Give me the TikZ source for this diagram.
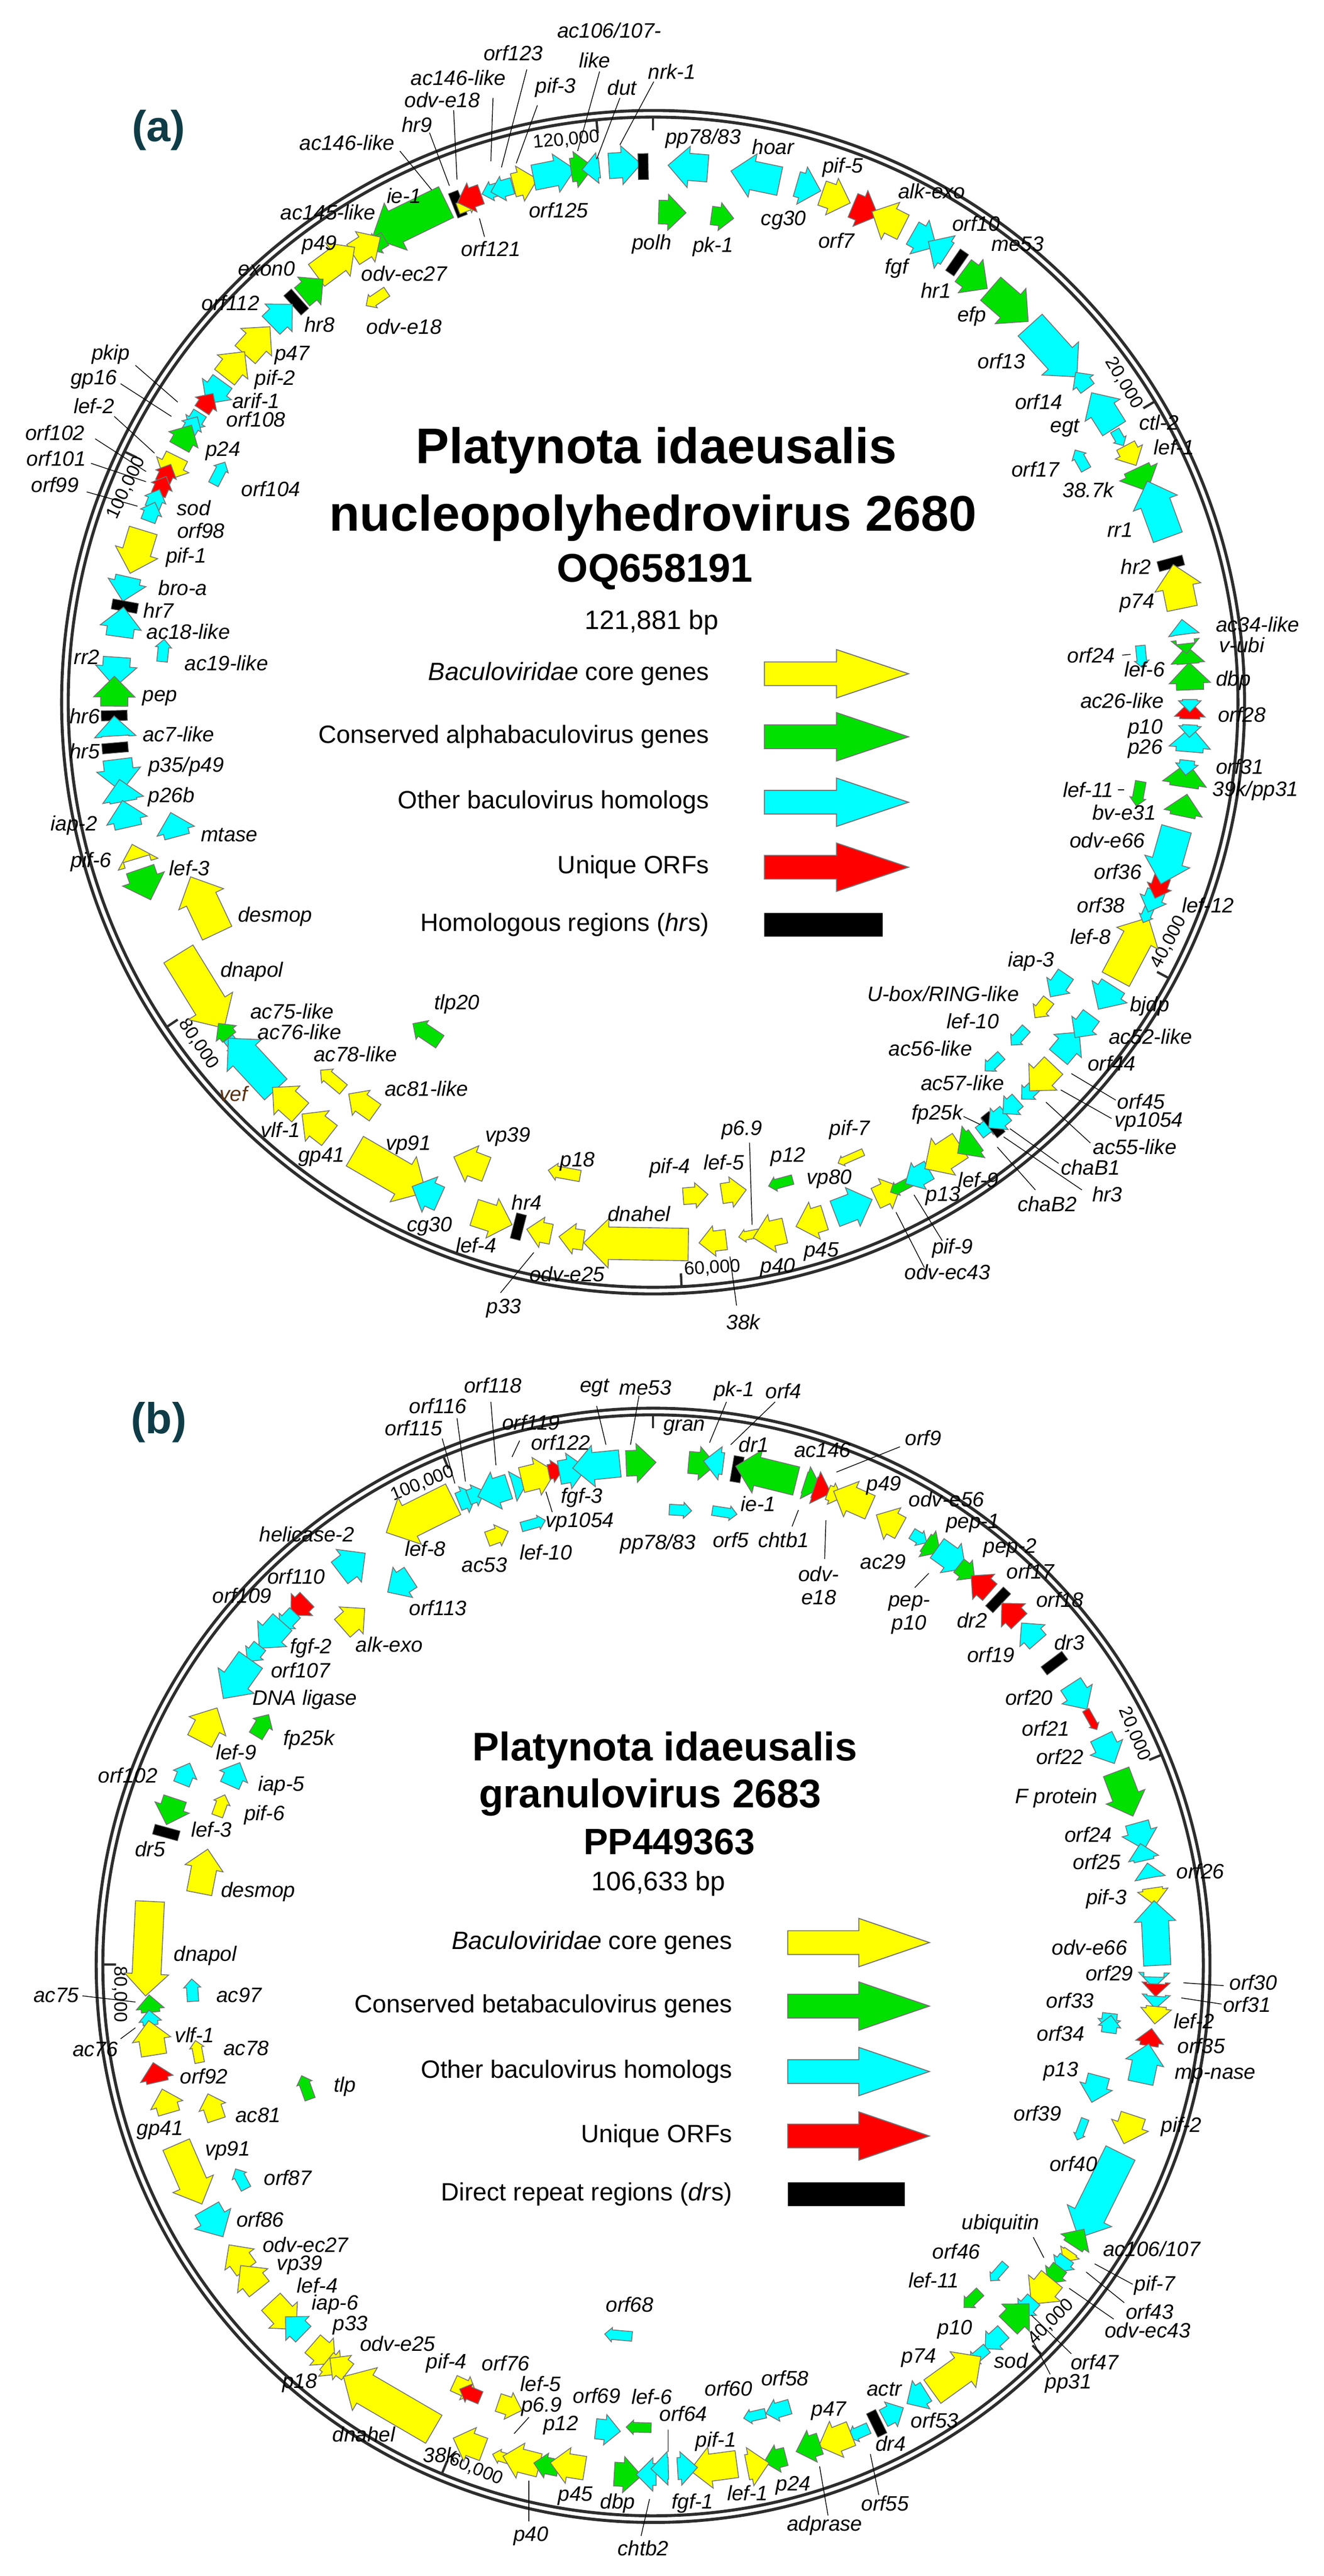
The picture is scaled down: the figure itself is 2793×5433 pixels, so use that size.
\documentclass[tikz,border=0pt]{standalone}
\usepackage{fontspec}
\setmainfont{Liberation Sans}
\usetikzlibrary{shapes.arrows}
\definecolor{gY}{RGB}{255,255,0}
\definecolor{gG}{RGB}{0,225,0}
\definecolor{gC}{RGB}{0,255,255}
\definecolor{gR}{RGB}{255,0,0}
\definecolor{ringc}{RGB}{45,45,45}
\definecolor{panelc}{RGB}{15,60,70}
\definecolor{vefc}{RGB}{90,50,20}
\newcommand\setz[4]{\def\zox{#1}\def\zoy{#2}\def\zsx{#3}\def\zsy{#4}}
\newcommand\setc[3]{\def\ccx{#1}\def\ccy{#2}\def\cR{#3}}
\newcommand\gn[6]{%
 \pgfmathsetmacro\gX{\zox+#1/\zsx}\pgfmathsetmacro\gY{\zoy+#2/\zsy}%
 \pgfmathsetmacro\gph{atan2(\ccy-\gY,\gX-\ccx)}%
 \pgfmathsetmacro\grt{\gph-90*#6}%
 \pgfmathsetmacro\gbw{0.37*#4*0.28453}\pgfmathsetmacro\ghe{0.2*#4*0.28453}%
 \pgfmathsetmacro\glen{#3*1.05*0.28453}%
 \node[gene,fill=g#5,rotate=\grt,inner ysep=\gbw pt,single arrow head extend=\ghe pt,minimum height=\glen pt] at (\gX,\gY) {};}
\newcommand\hrb[2]{%
 \pgfmathsetmacro\gX{\zox+#1/\zsx}\pgfmathsetmacro\gY{\zoy+#2/\zsy}%
 \pgfmathsetmacro\gph{atan2(\ccy-\gY,\gX-\ccx)}%
 \node[hrbox,rotate=\gph] at (\gX,\gY) {};}
\newcommand\glab[3]{%
 \pgfmathsetmacro\gX{\zox+#1/\zsx}\pgfmathsetmacro\gY{\zoy+#2/\zsy}%
 \node[lab] at (\gX,\gY) {#3};}
\newcommand\gld[4]{%
 \pgfmathsetmacro\gXa{\zox+#1/\zsx}\pgfmathsetmacro\gYa{\zoy+#2/\zsy}%
 \pgfmathsetmacro\gXb{\zox+#3/\zsx}\pgfmathsetmacro\gYb{\zoy+#4/\zsy}%
 \draw[leader] (\gXa,\gYa) -- (\gXb,\gYb);}
\newcommand\gtick[2]{%
 \pgfmathsetmacro\gXa{\ccx+(\cR-12)*cos(#1)}\pgfmathsetmacro\gYa{\ccy-(\cR-12)*sin(#1)}%
 \pgfmathsetmacro\gXb{\ccx+(\cR-42)*cos(#1)}\pgfmathsetmacro\gYb{\ccy-(\cR-42)*sin(#1)}%
 \draw[tickl] (\gXa,\gYa) -- (\gXb,\gYb);%
 \pgfmathsetmacro\gX{\ccx+(\cR-48)*cos(#1+3.2)}\pgfmathsetmacro\gY{\ccy-(\cR-48)*sin(#1+3.2)}%
 \pgfmathsetmacro\grt{#1>0 ? #1-90 : #1+90}%
 \node[tlab,rotate=\grt] at (\gX,\gY) {#2};}
\newcommand\ring{%
 \draw[ringl] (\ccx,\ccy) circle[radius=\cR];
 \pgfmathsetmacro\gri{\cR-14}%
 \draw[ringl] (\ccx,\ccy) circle[radius=\gri];}
\begin{document}
\begin{tikzpicture}[x=0.01cm,y=-0.01cm,
 gene/.style={single arrow,draw=black!55,line width=0.5pt,inner xsep=0pt,single arrow tip angle=90},
 hrbox/.style={fill=black,draw=black!70,minimum width=15.5pt,minimum height=6pt,inner sep=0pt},
 lab/.style={font=\fontsize{12.5}{14}\selectfont\itshape,inner sep=1pt,align=center},
 leader/.style={draw=black,line width=0.45pt},
 tickl/.style={draw=ringc,line width=1.4pt},
 tlab/.style={font=\fontsize{11}{12}\selectfont,inner sep=0pt},
 ringl/.style={draw=ringc,line width=1.8pt},
 legt/.style={font=\fontsize{15}{17}\selectfont,anchor=east,inner sep=0pt},
 larr/.style={draw=black!55,line width=0.6pt},
 plab/.style={font=\fontsize{26}{28}\bfseries\selectfont\rmfamily,text=panelc}]
\useasboundingbox (0,0) rectangle (2793,5433);
\fill[white] (0,0) rectangle (2793,5433);

%================= PANEL A =================
\setc{1378}{1481}{1248}
\ring
\gtick{90}{}
\gtick{30.93}{20,000}
\gtick{-28.14}{40,000}
\gtick{-87.21}{60,000}
\gtick{-146.28}{80,000}
\gtick{154.65}{100,000}
\gtick{95.56}{120,000}
\node[plab] (pa) at (335,275) {(a)};
\node[font=\fontsize{30}{32}\bfseries\selectfont] (ta1) at (1385,950) {Platynota idaeusalis};
\node[font=\fontsize{30}{32}\bfseries\selectfont] (ta2) at (1378,1092) {nucleopolyhedrovirus 2680};
\node[font=\fontsize{24}{26}\bfseries\selectfont] (ta3) at (1382,1206) {OQ658191};
\node[font=\fontsize{16}{18}\selectfont] (ta4) at (1375,1313) {121,881 bp};
% legend a
\foreach \yy/\cc/\tt in {1421/gY/{\itshape Baculoviridae\upshape{} core genes},1554/gG/{Conserved alphabaculovirus genes},1692/gC/{Other baculovirus homologs},1829/gR/{Unique ORFs}}{
 \node[legt] at (1497,\yy) {\tt};
 \draw[larr,fill=\cc] (1613,\yy-25) -- (1765,\yy-25) -- (1765,\yy-51) -- (1917,\yy) -- (1765,\yy+51) -- (1765,\yy+25) -- (1613,\yy+25) -- cycle;}
\node[legt] at (1497,1950) {Homologous regions (\textit{hr}s)};
\fill (1613,1925) rectangle (1862,1975);

% zoom1 region
\setz{0}{0}{1.12}{1.1615}
\gn{985}{530}{165}{95}{G}{-1}
\hrb{1082}{500}
\gn{1098}{505}{40}{30}{Y}{1}
\gn{1120}{482}{50}{55}{R}{-1}
\gn{1172}{465}{45}{35}{C}{-1}
\gn{1195}{460}{45}{45}{C}{-1}
\gn{1228}{450}{50}{65}{Y}{1}
\gn{1295}{428}{85}{70}{C}{1}
\gn{1362}{415}{45}{65}{G}{1}
\gn{1408}{412}{35}{55}{C}{-1}
\gn{1462}{405}{65}{70}{C}{1}
\hrb{1520}{408}
\gn{1575}{520}{55}{65}{G}{1}
\gn{897}{593}{40}{40}{G}{-1}
\gn{855}{610}{65}{65}{Y}{1}
\gn{780}{650}{95}{75}{Y}{1}
\gn{895}{728}{50}{28}{Y}{-1}
\gn{728}{715}{55}{65}{G}{1}
\hrb{700}{740}
\gn{655}{782}{60}{70}{C}{1}
\gn{598}{847}{75}{75}{Y}{1}
\gn{545}{905}{65}{70}{Y}{1}
\gn{515}{950}{55}{65}{C}{-1}
\gn{485}{993}{40}{45}{R}{1}
\gn{465}{1025}{40}{40}{C}{-1}
\gn{450}{1050}{40}{40}{C}{1}
\gn{432}{1080}{50}{60}{G}{1}
\gn{410}{1135}{55}{65}{Y}{-1}
\gn{515}{1165}{50}{28}{C}{1}
\gn{390}{1168}{40}{40}{R}{1}
\gn{380}{1198}{40}{40}{R}{1}
\gn{365}{1230}{40}{40}{C}{1}
\gn{355}{1262}{40}{40}{C}{1}
\gn{328}{1335}{90}{80}{Y}{-1}
\gn{300}{1428}{50}{70}{C}{-1}
\hrb{295}{1485}
\glab{1440}{75}{ac106/107-}
\glab{1405}{148}{like}
\glab{1213}{130}{orf123}
\glab{1083}{190}{ac146-like}
\glab{1313}{215}{pif-3}
\glab{1470}{215}{dut}
\glab{1588}{175}{nrk-1}
\glab{1045}{245}{odv-e18}
\glab{985}{305}{hr9}
\glab{820}{350}{ac146-like}
\glab{955}{480}{ie-1}
\glab{1320}{515}{orf125}
\glab{1160}{610}{orf121}
\glab{775}{520}{ac145-like}
\glab{755}{600}{p49}
\glab{630}{658}{exon0}
\glab{955}{670}{odv-ec27}
\glab{545}{742}{orf112}
\glab{755}{795}{hr8}
\glab{955}{800}{odv-e18}
\glab{262}{868}{pkip}
\glab{690}{870}{p47}
\glab{222}{930}{gp16}
\glab{650}{930}{pif-2}
\glab{605}{982}{arif-1}
\glab{222}{995}{lef-2}
\glab{605}{1027}{orf108}
\glab{130}{1060}{orf102}
\glab{527}{1105}{p24}
\glab{133}{1123}{orf101}
\glab{130}{1188}{orf99}
\glab{640}{1198}{orf104}
\glab{458}{1245}{sod}
\glab{475}{1300}{orf98}
\glab{440}{1365}{pif-1}
\glab{432}{1440}{bro-a}
\glab{375}{1495}{hr7}
\glab{1540}{598}{polh}
\gld{945}{370}{1020}{465}
\gld{1015}{325}{1062}{455}
\gld{1072}{270}{1080}{440}
\gld{1165}{240}{1160}{395}
\gld{1245}{170}{1185}{410}
\gld{1270}{258}{1220}{400}
\gld{1417}{175}{1365}{370}
\gld{1465}{240}{1410}{390}
\gld{1545}{200}{1465}{355}
\gld{1133}{535}{1145}{580}
\gld{320}{895}{420}{985}
\gld{285}{940}{405}{1020}
\gld{270}{1020}{365}{1110}
\gld{225}{1075}{345}{1155}
\gld{215}{1135}{345}{1180}
\gld{205}{1205}{325}{1240}

% zoom2 region
\setz{1390}{0}{1.12}{1.1615}
\gn{85}{410}{80}{75}{C}{-1}
\gn{140}{530}{45}{50}{G}{1}
\gn{245}{435}{100}{80}{C}{-1}
\gn{340}{455}{50}{70}{C}{1}
\gn{405}{480}{60}{70}{Y}{1}
\gn{475}{510}{55}{70}{R}{1}
\gn{555}{545}{70}{75}{Y}{-1}
\gn{615}{580}{55}{70}{C}{1}
\gn{672}{615}{45}{70}{C}{-1}
\hrb{705}{643}
\gn{735}{675}{60}{75}{G}{1}
\gn{815}{735}{100}{85}{G}{1}
\gn{920}{845}{140}{90}{C}{1}
\gn{1005}{940}{40}{45}{C}{-1}
\gn{1058}{1020}{85}{75}{C}{-1}
\gn{1085}{1068}{35}{25}{C}{1}
\gn{1000}{1132}{45}{28}{C}{-1}
\gn{1110}{1105}{45}{55}{Y}{1}
\gn{1135}{1160}{50}{75}{G}{1}
\gn{1185}{1265}{120}{85}{C}{-1}
\hrb{1210}{1380}
\gn{1230}{1455}{90}{85}{Y}{-1}
\glab{105}{340}{pp78/83}
\glab{270}{360}{hoar}
\glab{435}{410}{pif-5}
\glab{645}{468}{alk-exo}
\glab{295}{540}{cg30}
\glab{750}{548}{orf10}
\glab{420}{590}{orf7}
\glab{848}{598}{me53}
\glab{128}{605}{pk-1}
\glab{562}{658}{fgf}
\glab{655}{712}{hr1}
\glab{740}{775}{efp}
\glab{810}{885}{orf13}
\glab{898}{985}{orf14}
\glab{960}{1048}{egt}
\glab{1182}{1035}{ctl-2}
\glab{1218}{1095}{lef-1}
\glab{890}{1150}{orf17}
\glab{1015}{1200}{38.7k}
\glab{1090}{1298}{rr1}
\glab{1128}{1388}{hr2}
\glab{1130}{1478}{p74}

% zoom3 region
\setz{0}{1300}{1.12}{1.1615}
\gn{285}{30}{60}{75}{C}{1}
\gn{385}{90}{45}{28}{C}{1}
\gn{275}{120}{60}{75}{C}{-1}
\gn{270}{200}{60}{75}{G}{1}
\hrb{270}{243}
\gn{272}{285}{40}{75}{C}{1}
\hrb{272}{322}
\gn{280}{372}{65}{80}{C}{-1}
\gn{290}{443}{45}{75}{C}{1}
\gn{300}{500}{55}{75}{C}{1}
\gn{415}{525}{50}{70}{C}{1}
\gn{322}{592}{30}{75}{Y}{1}
\gn{338}{640}{65}{80}{G}{-1}
\gn{490}{725}{125}{90}{Y}{1}
\gn{465}{900}{175}{95}{Y}{-1}
\gn{535}{1022}{35}{45}{G}{1}
\gn{548}{1045}{35}{30}{C}{-1}
\gn{608}{1110}{140}{85}{C}{1}
\gn{1015}{1025}{65}{40}{G}{1}
\gn{790}{1140}{60}{32}{Y}{1}
\gn{688}{1195}{75}{70}{Y}{1}
\gn{865}{1200}{65}{55}{Y}{1}
\gn{758}{1255}{70}{70}{Y}{1}
\gn{905}{1350}{165}{95}{Y}{-1}
\gn{1125}{1345}{70}{70}{Y}{1}
\gn{1020}{1418}{60}{70}{C}{1}
\gn{1150}{1470}{80}{75}{Y}{-1}
\hrb{1225}{1495}
\gn{1340}{1365}{65}{30}{Y}{1}
\glab{445}{38}{ac18-like}
\glab{205}{100}{rr2}
\glab{535}{115}{ac19-like}
\glab{378}{200}{pep}
\glab{200}{245}{hr6}
\glab{422}{288}{ac7-like}
\glab{200}{330}{hr5}
\glab{440}{368}{p35/p49}
\glab{405}{443}{p26b}
\glab{175}{512}{iap-2}
\glab{542}{535}{mtase}
\glab{215}{602}{pif-6}
\glab{448}{617}{lef-3}
\glab{650}{735}{desmop}
\glab{595}{870}{dnapol}
\glab{690}{968}{ac75-like}
\glab{708}{1018}{ac76-like}
\glab{1080}{950}{tlp20}
\glab{840}{1072}{ac78-like}
\glab{1008}{1157}{ac81-like}
\pgfmathsetmacro\gX{552/1.12}\pgfmathsetmacro\gY{1300+1170/1.1615}
\node[lab,text=vefc] at (\gX,\gY) {vef};
\glab{663}{1258}{vlf-1}
\glab{760}{1325}{gp41}
\glab{965}{1295}{vp91}
\glab{1200}{1275}{vp39}
\glab{1015}{1495}{cg30}
\glab{1125}{1540}{lef-4}
\glab{1245}{1435}{hr4}
\glab{1365}{1335}{p18}

% zoom5 region (bottom of a)
\setz{600}{2300}{0.922}{3.0}
\gn{505}{900}{50}{55}{Y}{1}
\gn{568}{940}{50}{55}{Y}{1}
\gn{700}{970}{210}{90}{Y}{1}
\gn{792}{665}{50}{45}{Y}{-1}
\gn{865}{645}{50}{55}{Y}{-1}
\gn{843}{950}{55}{55}{Y}{1}
\gn{912}{910}{50}{22}{Y}{1}
\gn{955}{900}{65}{70}{Y}{1}
\gn{970}{580}{50}{25}{G}{1}
\gn{1035}{820}{60}{70}{Y}{1}
\gn{1095}{750}{80}{75}{C}{-1}
\gn{1105}{420}{55}{18}{Y}{1}
\gn{1165}{660}{55}{60}{Y}{-1}
\gn{1205}{600}{50}{25}{G}{1}
\gn{1240}{530}{55}{55}{C}{1}
\glab{690}{780}{dnahel}
\glab{750}{490}{pif-4}
\glab{855}{455}{lef-5}
\glab{980}{420}{p12}
\glab{1060}{560}{vp80}
\glab{1100}{250}{pif-7}
\glab{890}{250}{p6.9}
\glab{550}{1160}{odv-e25}
\glab{960}{1120}{p40}
\glab{1045}{1020}{p45}
\glab{1300}{1000}{pif-9}
\glab{1290}{1150}{odv-ec43}
\gld{905}{330}{910}{850}
\gld{1190}{770}{1245}{1120}
\gld{1225}{660}{1280}{950}

\setz{800}{2600}{1.4255}{3.0}
\glab{375}{480}{p33}
\glab{1095}{565}{38k}
\gld{465}{125}{365}{380}
\gld{1055}{150}{1075}{460}

% zoom4 region
\setz{1390}{1300}{1.12}{1.1615}
\gn{685}{1315}{85}{80}{Y}{1}
\gn{740}{1290}{45}{70}{G}{1}
\gn{770}{1255}{40}{35}{C}{-1}
\hrb{790}{1245}
\gn{808}{1228}{45}{50}{C}{1}
\gn{838}{1195}{40}{45}{C}{1}
\gn{880}{1160}{40}{35}{C}{1}
\gn{795}{1090}{45}{28}{C}{1}
\gn{855}{1025}{45}{28}{C}{1}
\gn{915}{1120}{70}{70}{Y}{1}
\gn{960}{1060}{65}{65}{C}{-1}
\gn{910}{955}{45}{35}{Y}{1}
\gn{1010}{995}{55}{55}{C}{1}
\gn{950}{895}{55}{50}{C}{1}
\gn{1065}{920}{55}{75}{C}{1}
\gn{1110}{830}{140}{85}{Y}{-1}
\gn{1155}{725}{35}{25}{C}{1}
\gn{1170}{688}{45}{50}{C}{1}
\gn{1185}{655}{45}{45}{R}{1}
\gn{1210}{570}{115}{85}{C}{1}
\gn{1240}{478}{45}{70}{G}{-1}
\gn{1135}{428}{50}{28}{G}{1}
\gn{1243}{405}{50}{80}{G}{-1}
\gn{1248}{362}{30}{40}{C}{1}
\gn{1255}{318}{50}{75}{C}{-1}
\gn{1255}{272}{25}{40}{C}{1}
\gn{1255}{242}{35}{55}{R}{-1}
\gn{1255}{210}{25}{40}{C}{1}
\gn{1255}{163}{55}{75}{G}{-1}
\gn{1250}{108}{35}{60}{G}{-1}
\gn{1140}{93}{45}{25}{C}{1}
\gn{1245}{68}{20}{50}{G}{1}
\gn{1240}{38}{30}{55}{C}{-1}
\glab{1415}{20}{ac34-like}
\glab{1378}{70}{v-ubi}
\glab{1022}{95}{orf24}
\glab{1148}{130}{lef-6}
\glab{1358}{157}{dbp}
\glab{1095}{207}{ac26-like}
\glab{1378}{240}{orf28}
\glab{1150}{275}{p10}
\glab{1150}{325}{p26}
\glab{1373}{368}{orf31}
\glab{1015}{425}{lef-11}
\glab{1410}{428}{39k/pp31}
\glab{1100}{480}{bv-e31}
\glab{1060}{548}{odv-e66}
\glab{1085}{625}{orf36}
\glab{1045}{708}{orf38}
\glab{1298}{708}{lef-12}
\glab{1020}{785}{lef-8}
\glab{880}{845}{iap-3}
\glab{672}{925}{U-box/RING-like}
\glab{1160}{955}{bjdp}
\glab{742}{992}{lef-10}
\glab{1162}{1030}{ac52-like}
\glab{642}{1058}{ac56-like}
\glab{1070}{1095}{orf44}
\glab{718}{1143}{ac57-like}
\glab{1140}{1188}{orf45}
\glab{658}{1220}{fp25k}
\glab{1158}{1238}{vp1054}
\glab{1125}{1300}{ac55-like}
\glab{1020}{1350}{chaB1}
\glab{755}{1380}{lef-9}
\glab{1060}{1415}{hr3}
\glab{918}{1440}{chaB2}
\glab{672}{1420}{p13}
\gld{975}{1120}{1080}{1185}
\gld{950}{1160}{1070}{1230}
\gld{915}{1190}{1020}{1290}
\gld{830}{1255}{945}{1340}
\gld{815}{1275}{1000}{1405}
\gld{800}{1300}{890}{1405}
\gld{720}{1225}{760}{1245}
\gld{1095}{95}{1115}{93}
\gld{1085}{425}{1100}{425}

%================= PANEL B =================
\setc{1378}{4145}{1175}
\ring
\gtick{90}{}
\gtick{22.48}{20,000}
\gtick{-45.04}{40,000}
\gtick{-112.57}{60,000}
\gtick{-180.09}{80,000}
\gtick{112.4}{100,000}
\node[plab] (pb) at (335,3000) {(b)};
\node[font=\fontsize{24}{26}\bfseries\selectfont] (tb1) at (1403,3692) {Platynota idaeusalis};
\node[font=\fontsize{24}{26}\bfseries\selectfont,anchor=west,inner sep=0pt] (tb2) at (1010,3791) {granulovirus 2683};
\node[font=\fontsize{22}{24}\bfseries\selectfont] (tb3) at (1412,3885) {PP449363};
\node[font=\fontsize{16}{18}\selectfont] (tb4) at (1389,3973) {106,633 bp};
\foreach \yy/\cc/\tt in {4097/gY/{\itshape Baculoviridae\upshape{} core genes},4231/gG/{Conserved betabaculovirus genes},4369/gC/{Other baculovirus homologs},4505/gR/{Unique ORFs}}{
 \node[legt] at (1546,\yy) {\tt};
 \draw[larr,fill=\cc] (1662,\yy-25) -- (1812,\yy-25) -- (1812,\yy-51) -- (1961,\yy) -- (1812,\yy+51) -- (1812,\yy+25) -- (1662,\yy+25) -- cycle;}
\node[legt] at (1546,4628) {Direct repeat regions (\textit{dr}s)};
\fill (1662,4603) rectangle (1909,4653);

% zoom6
\setz{0}{2750}{1.12}{1.1615}
\gn{1010}{510}{150}{95}{Y}{-1}
\gn{1095}{480}{40}{50}{C}{1}
\gn{1118}{470}{35}{40}{C}{1}
\gn{1180}{455}{65}{70}{C}{-1}
\gn{1218}{445}{30}{55}{C}{1}
\gn{1258}{425}{70}{70}{Y}{1}
\gn{1305}{410}{30}{40}{R}{1}
\gn{1340}{410}{55}{65}{C}{1}
\gn{1425}{395}{95}{75}{C}{-1}
\gn{1500}{390}{60}{70}{G}{1}
\gn{1168}{570}{45}{40}{Y}{1}
\gn{1255}{540}{50}{25}{C}{1}
\gn{820}{645}{65}{75}{C}{1}
\gn{955}{680}{55}{65}{C}{-1}
\gn{715}{735}{45}{55}{R}{-1}
\gn{685}{770}{45}{40}{C}{-1}
\gn{825}{780}{60}{65}{Y}{1}
\gn{650}{800}{70}{70}{C}{-1}
\gn{605}{850}{40}{40}{C}{-1}
\gn{570}{905}{95}{80}{C}{-1}
\gn{485}{1045}{75}{75}{Y}{1}
\gn{615}{1040}{50}{40}{G}{1}
\gn{435}{1160}{45}{45}{C}{1}
\gn{550}{1163}{50}{55}{C}{1}
\gn{408}{1230}{55}{65}{G}{-1}
\gn{520}{1235}{45}{30}{Y}{1}
\hrb{393}{1295}
\gn{478}{1405}{90}{70}{Y}{1}
\glab{1165}{200}{orf118}
\glab{1035}{250}{orf116}
\glab{1255}{290}{orf119}
\glab{978}{305}{orf115}
\glab{1325}{340}{orf122}
\glab{1405}{205}{egt}
\glab{1525}{205}{me53}
\glab{1375}{475}{fgf-3}
\glab{1370}{535}{vp1054}
\glab{725}{565}{helicase-2}
\glab{1005}{600}{lef-8}
\glab{1145}{640}{ac53}
\glab{1290}{608}{lef-10}
\glab{1555}{588}{pp78/83}
\glab{700}{668}{orf110}
\glab{572}{715}{orf109}
\glab{1035}{745}{orf113}
\glab{735}{843}{fgf-2}
\glab{920}{835}{alk-exo}
\glab{710}{898}{orf107}
\glab{720}{970}{DNA ligase}
\glab{730}{1068}{fp25k}
\glab{558}{1098}{lef-9}
\glab{302}{1155}{orf102}
\glab{665}{1180}{iap-5}
\glab{625}{1252}{pif-6}
\glab{500}{1287}{lef-3}
\glab{355}{1335}{dr5}
\glab{610}{1440}{desmop}
\gld{1045}{330}{1075}{440}
\gld{1080}{280}{1100}{435}
\gld{1160}{240}{1172}{395}
\gld{1228}{335}{1210}{375}
\gld{1410}{250}{1432}{345}
\gld{1510}{225}{1490}{345}
\gld{1290}{460}{1305}{510}

% zoom7
\setz{1390}{2750}{1.12}{1.1615}
\gn{90}{390}{55}{60}{G}{1}
\gn{142}{390}{40}{60}{C}{-1}
\hrb{185}{405}
\gn{270}{420}{125}{80}{G}{-1}
\gn{352}{440}{35}{60}{G}{1}
\gn{375}{452}{35}{60}{R}{1}
\gn{408}{465}{30}{40}{Y}{1}
\gn{45}{505}{45}{28}{C}{1}
\gn{150}{510}{50}{25}{C}{1}
\gn{470}{485}{80}{70}{Y}{-1}
\gn{555}{540}{55}{65}{Y}{-1}
\gn{610}{570}{35}{30}{C}{1}
\gn{638}{590}{35}{55}{G}{1}
\gn{680}{615}{70}{65}{C}{1}
\gn{720}{650}{40}{45}{G}{1}
\gn{770}{695}{50}{60}{R}{-1}
\hrb{802}{725}
\gn{840}{765}{50}{60}{R}{-1}
\gn{885}{815}{50}{60}{C}{-1}
\hrb{935}{880}
\gn{985}{950}{60}{65}{C}{1}
\gn{1020}{1015}{45}{18}{R}{1}
\gn{1055}{1080}{60}{65}{C}{1}
\gn{1095}{1185}{95}{75}{G}{1}
\gn{1135}{1290}{55}{65}{C}{1}
\gn{1145}{1355}{35}{55}{C}{-1}
\gn{1160}{1400}{30}{55}{C}{-1}
\gn{1168}{1440}{35}{55}{Y}{1}
\glab{60}{303}{gran}
\glab{178}{213}{pk-1}
\glab{295}{213}{orf4}
\glab{225}{345}{dr1}
\glab{387}{358}{ac146}
\glab{625}{328}{orf9}
\glab{235}{490}{ie-1}
\glab{532}{445}{p49}
\glab{680}{478}{odv-e56}
\glab{170}{578}{orf5}
\glab{295}{578}{chtb1}
\glab{378}{690}{odv-\\e18}
\glab{530}{632}{ac29}
\glab{742}{538}{pep-1}
\glab{830}{598}{pep-2}
\glab{878}{655}{orf17}
\glab{592}{762}{pep-\\p10}
\glab{948}{725}{orf18}
\glab{740}{775}{dr2}
\glab{785}{860}{orf19}
\glab{970}{830}{dr3}
\glab{875}{965}{orf20}
\glab{915}{1040}{orf21}
\glab{948}{1110}{orf22}
\glab{940}{1210}{F protein}
\glab{1015}{1300}{orf24}
\glab{1035}{1367}{orf25}
\glab{1280}{1390}{orf26}
\glab{1058}{1458}{pif-3}
\gld{160}{240}{120}{340}
\gld{275}{240}{170}{345}
\gld{570}{350}{420}{412}
\gld{315}{545}{330}{505}
\gld{392}{625}{395}{530}
\gld{638}{660}{605}{695}

% zoom8
\setz{0}{4080}{1.12}{1.159}
\gn{350}{17}{190}{80}{Y}{-1}
\gn{455}{143}{45}{30}{C}{1}
\gn{355}{180}{35}{50}{G}{1}
\gn{355}{212}{30}{40}{C}{1}
\gn{360}{268}{70}{70}{Y}{1}
\gn{468}{292}{45}{25}{Y}{1}
\gn{370}{350}{40}{60}{R}{1}
\gn{725}{380}{50}{28}{G}{1}
\gn{395}{420}{50}{60}{Y}{1}
\gn{505}{432}{55}{50}{Y}{1}
\gn{440}{570}{130}{80}{Y}{-1}
\gn{572}{603}{45}{28}{C}{1}
\gn{500}{690}{65}{75}{C}{-1}
\gn{570}{800}{60}{65}{Y}{1}
\gn{600}{850}{60}{70}{Y}{1}
\gn{660}{920}{75}{70}{Y}{-1}
\gn{705}{965}{50}{60}{C}{1}
\gn{755}{1015}{60}{65}{Y}{-1}
\gn{780}{1050}{40}{60}{Y}{-1}
\gn{810}{1060}{45}{55}{Y}{1}
\gn{935}{1155}{210}{90}{Y}{1}
\gn{1090}{1105}{50}{45}{Y}{-1}
\gn{1118}{1125}{45}{35}{R}{1}
\gn{1195}{1150}{50}{50}{Y}{-1}
\gn{1120}{1250}{65}{65}{Y}{1}
\gn{1195}{1280}{45}{25}{Y}{1}
\gn{1245}{1290}{75}{65}{Y}{1}
\gn{1300}{1300}{50}{45}{G}{1}
\gn{1355}{1300}{70}{65}{Y}{1}
\gn{1425}{1210}{50}{55}{C}{-1}
\gn{1515}{1205}{50}{25}{G}{1}
\gn{1467}{980}{55}{25}{C}{1}
\gn{1470}{1320}{55}{65}{G}{-1}
\gn{1540}{1320}{40}{60}{C}{1}
\glab{485}{52}{dnapol}
\glab{133}{148}{ac75}
\glab{565}{148}{ac97}
\glab{460}{245}{vlf-1}
\glab{225}{280}{ac76}
\glab{582}{278}{ac78}
\glab{482}{347}{orf92}
\glab{815}{372}{tlp}
\glab{610}{442}{ac81}
\glab{378}{478}{gp41}
\glab{538}{528}{vp91}
\glab{680}{595}{orf87}
\glab{615}{697}{orf86}
\glab{722}{758}{odv-ec27}
\glab{708}{808}{vp39}
\glab{750}{858}{lef-4}
\glab{792}{905}{iap-6}
\glab{828}{955}{p33}
\glab{940}{1000}{odv-e25}
\glab{1488}{905}{orf68}
\glab{1055}{1048}{pif-4}
\glab{1195}{1048}{orf76}
\glab{708}{1097}{p18}
\glab{1278}{1098}{lef-5}
\glab{1410}{1127}{orf69}
\glab{1540}{1130}{lef-6}
\glab{1280}{1155}{p6.9}
\glab{1325}{1200}{p12}
\glab{860}{1222}{dnahel}
\glab{1040}{1272}{38k}
\glab{1360}{1372}{p45}
\glab{1460}{1390}{dbp}
\glab{1255}{1470}{p40}
\glab{1520}{1500}{chtb2}
\gld{195}{150}{320}{165}
\gld{285}{255}{320}{228}
\gld{1250}{1335}{1250}{1435}
\gld{1535}{1380}{1515}{1470}
\gld{1250}{1180}{1215}{1220}

% zoom9
\setz{1390}{4080}{1.12}{1.159}
\gn{1175}{13}{130}{75}{C}{-1}
\gn{1170}{105}{20}{55}{C}{1}
\gn{1175}{125}{25}{50}{R}{1}
\gn{1175}{155}{25}{50}{C}{1}
\gn{1175}{185}{35}{55}{Y}{1}
\gn{1065}{205}{35}{40}{C}{1}
\gn{1065}{228}{35}{40}{C}{-1}
\gn{1160}{262}{35}{50}{R}{-1}
\gn{1145}{330}{80}{70}{C}{-1}
\gn{1035}{365}{55}{60}{C}{1}
\gn{1000}{472}{45}{20}{C}{1}
\gn{1115}{462}{60}{70}{Y}{1}
\gn{1050}{620}{190}{90}{C}{1}
\gn{985}{752}{40}{60}{G}{-1}
\gn{970}{780}{25}{40}{Y}{1}
\gn{958}{800}{35}{45}{C}{1}
\gn{940}{825}{40}{45}{G}{1}
\gn{915}{860}{65}{75}{Y}{1}
\gn{805}{822}{45}{22}{C}{1}
\gn{875}{905}{45}{45}{C}{1}
\gn{745}{888}{45}{28}{G}{1}
\gn{840}{940}{60}{70}{G}{-1}
\gn{800}{985}{50}{45}{C}{1}
\gn{760}{1025}{45}{28}{C}{1}
\gn{690}{1085}{120}{80}{Y}{-1}
\gn{620}{1125}{45}{60}{C}{1}
\gn{545}{1175}{45}{50}{C}{-1}
\hrb{515}{1195}
\gn{478}{1215}{45}{30}{C}{1}
\gn{430}{1230}{70}{70}{Y}{1}
\gn{365}{1250}{50}{60}{G}{1}
\gn{290}{1160}{50}{40}{C}{1}
\gn{232}{1175}{45}{25}{C}{1}
\gn{285}{1280}{45}{50}{G}{1}
\gn{220}{1300}{45}{70}{Y}{-1}
\gn{145}{1300}{95}{75}{Y}{1}
\gn{55}{1305}{40}{60}{C}{-1}
\gn{15}{1305}{35}{60}{C}{1}
\glab{1018}{32}{odv-e66}
\glab{1065}{95}{orf29}
\glab{1405}{117}{orf30}
\glab{1390}{172}{orf31}
\glab{972}{162}{orf33}
\glab{1265}{212}{lef-2}
\glab{950}{242}{orf34}
\glab{1282}{272}{orf35}
\glab{950}{335}{p13}
\glab{1315}{345}{mp-nase}
\glab{895}{437}{orf39}
\glab{1235}{470}{pif-2}
\glab{980}{560}{orf40}
\glab{808}{708}{ubiquitin}
\glab{1165}{768}{ac106/107}
\glab{703}{775}{orf46}
\glab{650}{845}{lef-11}
\glab{1172}{858}{pif-7}
\glab{1160}{922}{orf43}
\glab{1155}{968}{odv-ec43}
\glab{700}{965}{p10}
\glab{1030}{1045}{orf47}
\glab{832}{1042}{sod}
\glab{615}{1035}{p74}
\glab{968}{1098}{pp31}
\glab{165}{1110}{orf60}
\glab{298}{1085}{orf58}
\glab{533}{1112}{actr}
\glab{402}{1165}{p47}
\glab{652}{1188}{orf53}
\glab{58}{1172}{orf64}
\glab{135}{1240}{pif-1}
\glab{548}{1245}{dr4}
\glab{535}{1390}{orf55}
\glab{210}{1365}{lef-1}
\glab{318}{1347}{p24}
\glab{392}{1445}{adprase}
\glab{80}{1390}{fgf-1}
\gld{1240}{118}{1335}{125}
\gld{1235}{155}{1330}{170}
\gld{885}{740}{910}{790}
\gld{1030}{805}{1120}{855}
\gld{1010}{825}{1100}{900}
\gld{970}{865}{1075}{940}
\gld{880}{930}{975}{1025}
\gld{880}{985}{925}{1075}
\gld{500}{1270}{520}{1370}
\gld{380}{1300}{400}{1420}
\gld{22}{1210}{22}{1265}
\end{tikzpicture}
\end{document}
